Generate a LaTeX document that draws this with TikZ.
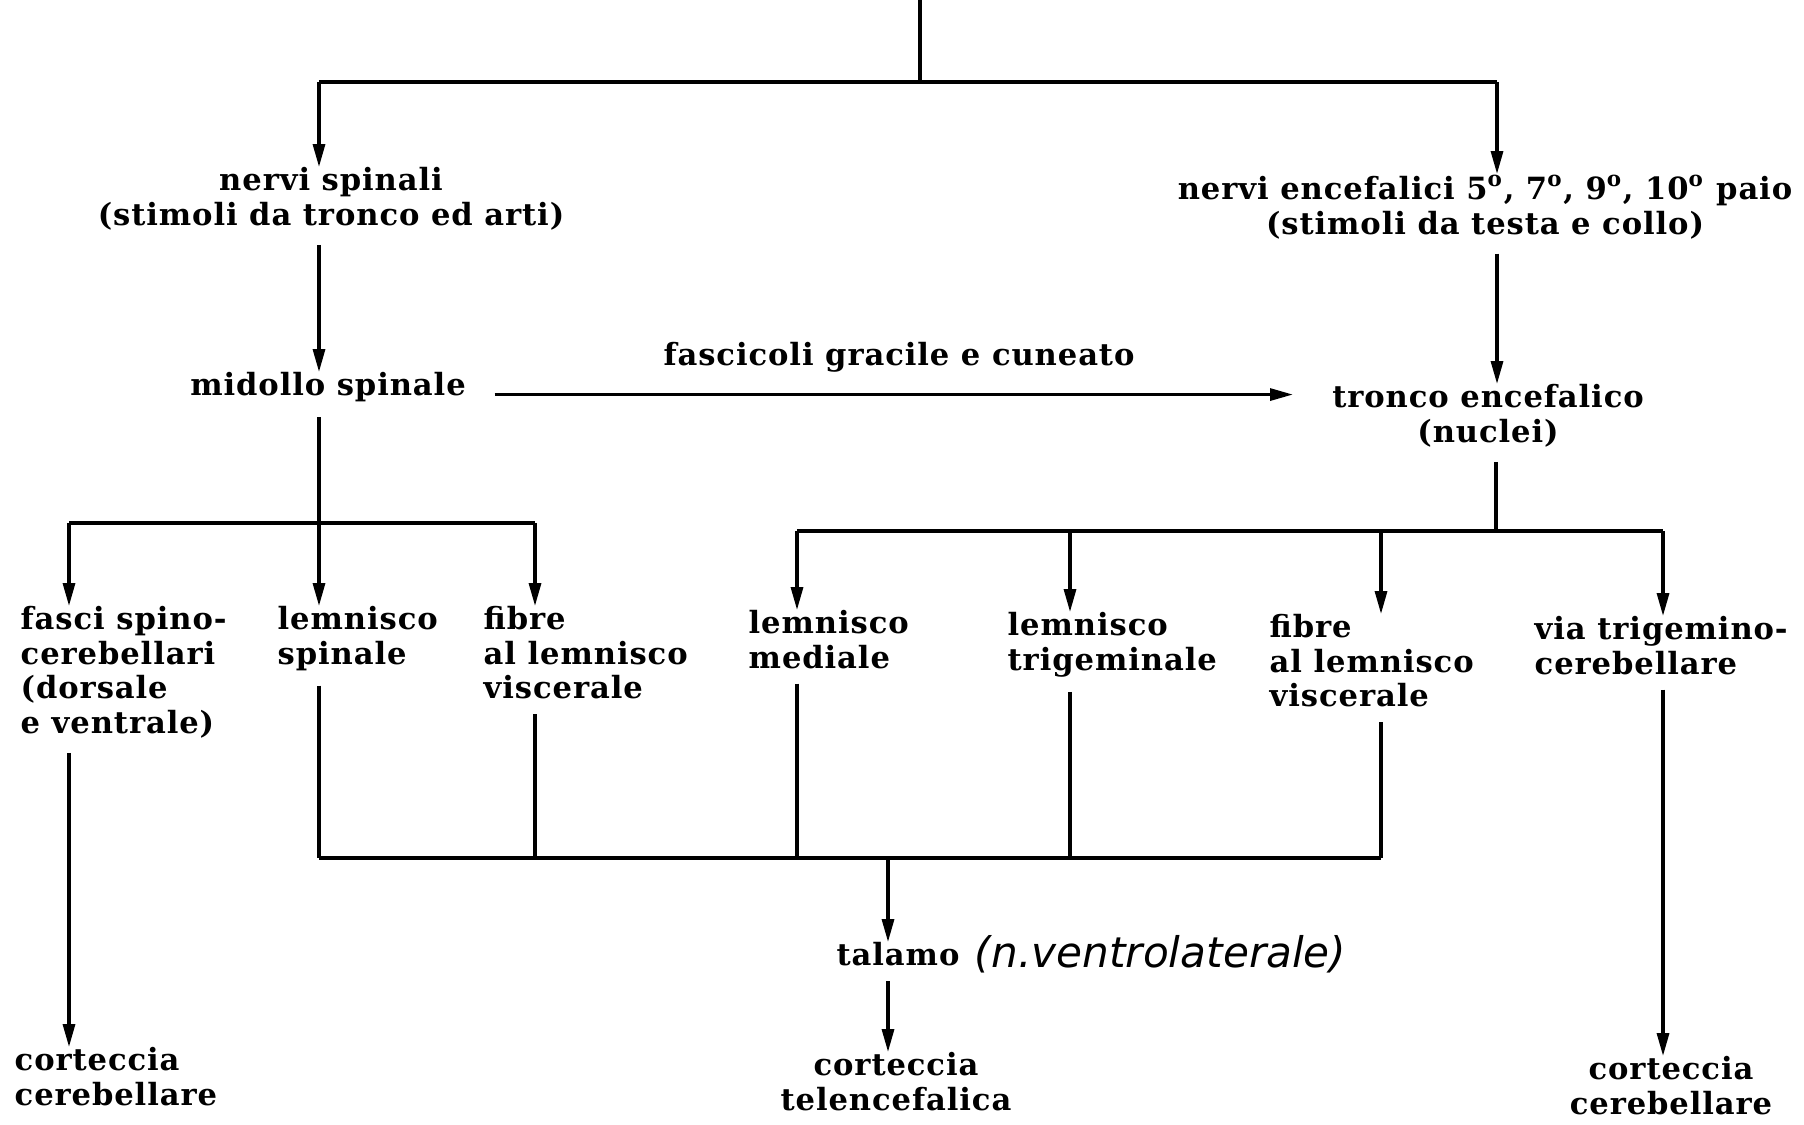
\documentclass[tikz,border=0pt]{standalone}
\usepackage{fontspec}
\setmainfont{DejaVu Serif}[LetterSpace=3]
\newfontfamily\handfont{DejaVu Sans}
\usepackage{tikz}
\usetikzlibrary{arrows.meta,positioning,calc}

\begin{document}
\begin{tikzpicture}[
    x=0.01cm, y=-0.01cm,
    every node/.style={font=\bfseries\fontsize{8.7}{9.8}\selectfont, inner sep=0pt},
    lbl/.style={align=center, anchor=north},
    leftlbl/.style={align=left, anchor=north west},
    hand/.style={font=\handfont\itshape\fontsize{12}{12}\selectfont},
    link/.style={line width=0.9pt},
    arr/.style={link, -{Triangle[length=6.5pt,width=3.4pt]}},
    gap/.style={shorten <=4pt},
]
    \useasboundingbox (0,0) rectangle (1804,1124);

    % Layer 0: entry and first split
    \coordinate (entry) at (920,0);
    \coordinate (split) at (920,82);
    \coordinate (splitL) at (319,82);
    \coordinate (splitR) at (1497,82);

    % Layer 1: nerves
    \node[lbl] (spinali) at (331,167) {nervi spinali\\(stimoli da tronco ed arti)};
    \node[lbl] (encef) at (1485,174) {nervi encefalici 5\textsuperscript{o}, 7\textsuperscript{o}, 9\textsuperscript{o}, 10\textsuperscript{o} paio\\(stimoli da testa e collo)};

    % Layer 2: spinal cord and brain stem
    \node[lbl] (midollo) at (328,372) {midollo spinale};
    \node[lbl] (tronco) at (1488,384) {tronco encefalico\\(nuclei)};

    % Layer 3: tracts
    \node[leftlbl] (fasci) at (20,606) {fasci spino-\\cerebellari\\(dorsale\\e ventrale)};
    \node[leftlbl] (lspin) at (277,606) {lemnisco\\spinale};
    \node[leftlbl] (fibreL) at (483,606) {fibre\\al lemnisco\\viscerale};
    \node[leftlbl] (mediale) at (748,610) {lemnisco\\mediale};
    \node[leftlbl] (trig) at (1007,612) {lemnisco\\trigeminale};
    \node[leftlbl] (fibreR) at (1269,614) {fibre\\al lemnisco\\viscerale};
    \node[leftlbl] (via) at (1534,616) {via trigemino-\\cerebellare};

    % Layer 4: thalamus
    \node[lbl] (talamo) at (898,942) {talamo};
    \node[hand, right=4pt of talamo] (ventro) {(n.ventrolaterale)};

    % Layer 5: cortex
    \node[leftlbl] (cortL) at (14,1047) {corteccia\\cerebellare};
    \node[lbl] (ctel) at (896,1052) {corteccia\\telencefalica};
    \node[lbl] (cortR) at (1671,1056) {corteccia\\cerebellare};

    % Junctions
    \coordinate (barA) at (69,523);
    \coordinate (barB) at (319,523);
    \coordinate (barC) at (535,523);
    \coordinate (barD) at (797,531);
    \coordinate (barE) at (1070,531);
    \coordinate (barF) at (1381,531);
    \coordinate (barT) at (1496,531);
    \coordinate (barG) at (1663,531);
    \coordinate (botA) at (319,858);
    \coordinate (botB) at (535,858);
    \coordinate (botC) at (797,858);
    \coordinate (botT) at (888,858);
    \coordinate (botD) at (1070,858);
    \coordinate (botE) at (1381,858);

    % Edges (top)
    \draw[link] (entry) -- (split);
    \draw[link] (splitL) -- (splitR);
    \draw[arr] (splitL) -- (splitL |- spinali.north);
    \draw[arr] (splitR) -- (splitR |- encef.north);
    \draw[arr, gap] (spinali.south -| splitL) -- (midollo.north -| splitL);
    \draw[arr, gap] (encef.south -| splitR) -- (tronco.north -| splitR);
    \draw[arr, shorten <=8pt, shorten >=11pt] ([yshift=-2pt]midollo.east) -- ([yshift=-2pt]midollo.east -| tronco.west)
        node[midway, above=6pt] {fascicoli gracile e cuneato};

    % Edges (split to tracts)
    \draw[link, gap] (midollo.south -| barB) -- (barB);
    \draw[link] (barA) -- (barC);
    \draw[arr] (barA) -- (barA |- fasci.north);
    \draw[arr] (barB) -- (barB |- lspin.north);
    \draw[arr] (barC) -- (barC |- fibreL.north);
    \draw[link, gap] (tronco.south -| barT) -- (barT);
    \draw[link] (barD) -- (barG);
    \draw[arr] (barD) -- (barD |- mediale.north);
    \draw[arr] (barE) -- (barE |- trig.north);
    \draw[arr] (barF) -- (barF |- fibreR.north);
    \draw[arr] (barG) -- (barG |- via.north);

    % Edges (tracts to thalamus)
    \draw[link, gap] (lspin.south -| botA) -- (botA);
    \draw[link, gap] (fibreL.south -| botB) -- (botB);
    \draw[link, gap] (mediale.south -| botC) -- (botC);
    \draw[link, gap] (trig.south -| botD) -- (botD);
    \draw[link, gap] (fibreR.south -| botE) -- (botE);
    \draw[link] (botA) -- (botE);
    \draw[arr] (botT) -- (botT |- talamo.north);

    % Edges (to cortex)
    \draw[arr, gap] (talamo.south -| botT) -- (botT |- ctel.north);
    \draw[arr, gap] (fasci.south -| barA) -- (barA |- cortL.north);
    \draw[arr, gap] (via.south -| barG) -- (barG |- cortR.north);
\end{tikzpicture}
\end{document}
